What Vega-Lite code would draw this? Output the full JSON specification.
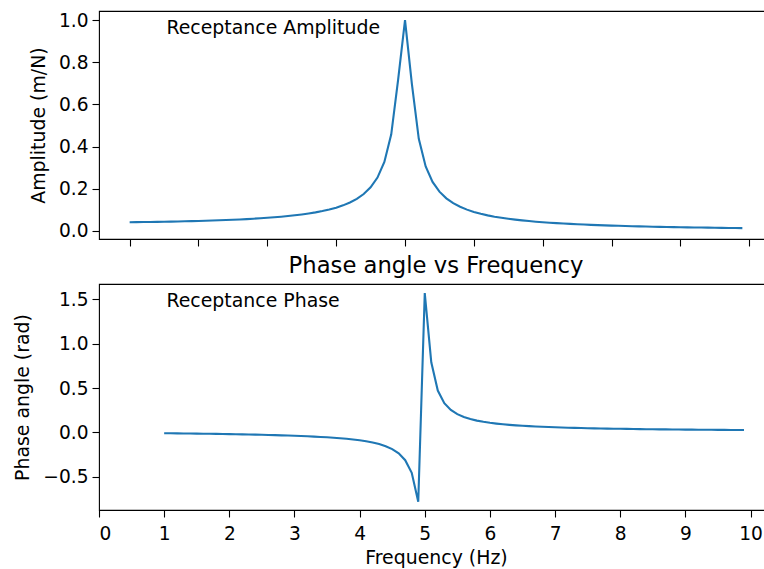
{
  "$schema": "https://vega.github.io/schema/vega-lite/v6.json",
  "padding": {"left": 13, "top": 10, "right": 0, "bottom": 0},
  "background": "white",
  "config": {
    "font": "DejaVu Sans",
    "view": {"stroke": "black", "strokeWidth": 1.1},
    "axis": {
      "grid": false, "domain": false, "tickColor": "black", "tickSize": 7, "tickWidth": 1.1,
      "labelColor": "black", "labelFontSize": 18.6, "labelFont": "DejaVu Sans", "labelPadding": 4,
      "titleColor": "black", "titleFontSize": 18.9, "titleFont": "DejaVu Sans", "titleFontWeight": "normal"
    },
    "title": {"font": "DejaVu Sans", "fontSize": 22.7, "fontWeight": "normal", "color": "black", "anchor": "middle", "offset": 6}
  },
  "datasets": {
    "frf": [
      {"f": 1.0, "amp": 0.04167, "phase": -0.00833},
      {"f": 1.1, "amp": 0.04203, "phase": -0.00925},
      {"f": 1.2, "amp": 0.04244, "phase": -0.01019},
      {"f": 1.3, "amp": 0.04290, "phase": -0.01115},
      {"f": 1.4, "amp": 0.04340, "phase": -0.01215},
      {"f": 1.5, "amp": 0.04395, "phase": -0.01319},
      {"f": 1.6, "amp": 0.04456, "phase": -0.01426},
      {"f": 1.7, "amp": 0.04523, "phase": -0.01538},
      {"f": 1.8, "amp": 0.04595, "phase": -0.01654},
      {"f": 1.9, "amp": 0.04675, "phase": -0.01776},
      {"f": 2.0, "amp": 0.04762, "phase": -0.01905},
      {"f": 2.1, "amp": 0.04856, "phase": -0.02040},
      {"f": 2.2, "amp": 0.04959, "phase": -0.02182},
      {"f": 2.3, "amp": 0.05072, "phase": -0.02333},
      {"f": 2.4, "amp": 0.05196, "phase": -0.02494},
      {"f": 2.5, "amp": 0.05331, "phase": -0.02666},
      {"f": 2.6, "amp": 0.05480, "phase": -0.02850},
      {"f": 2.7, "amp": 0.05644, "phase": -0.03048},
      {"f": 2.8, "amp": 0.05825, "phase": -0.03262},
      {"f": 2.9, "amp": 0.06025, "phase": -0.03495},
      {"f": 3.0, "amp": 0.06246, "phase": -0.03748},
      {"f": 3.1, "amp": 0.06492, "phase": -0.04026},
      {"f": 3.2, "amp": 0.06769, "phase": -0.04333},
      {"f": 3.3, "amp": 0.07079, "phase": -0.04674},
      {"f": 3.4, "amp": 0.07431, "phase": -0.05055},
      {"f": 3.5, "amp": 0.07831, "phase": -0.05484},
      {"f": 3.6, "amp": 0.08291, "phase": -0.05973},
      {"f": 3.7, "amp": 0.08823, "phase": -0.06533},
      {"f": 3.8, "amp": 0.09445, "phase": -0.07184},
      {"f": 3.9, "amp": 0.10182, "phase": -0.07950},
      {"f": 4.0, "amp": 0.11067, "phase": -0.08867},
      {"f": 4.1, "amp": 0.12149, "phase": -0.09979},
      {"f": 4.2, "amp": 0.13499, "phase": -0.11364},
      {"f": 4.3, "amp": 0.15229, "phase": -0.13135},
      {"f": 4.4, "amp": 0.17518, "phase": -0.15479},
      {"f": 4.5, "amp": 0.20685, "phase": -0.18727},
      {"f": 4.6, "amp": 0.25325, "phase": -0.23515},
      {"f": 4.7, "amp": 0.32701, "phase": -0.31255},
      {"f": 4.8, "amp": 0.45818, "phase": -0.45544},
      {"f": 4.9, "amp": 0.71787, "phase": -0.78032},
      {"f": 5.0, "amp": 1.00000, "phase": 1.57080},
      {"f": 5.1, "amp": 0.69662, "phase": 0.79032},
      {"f": 5.2, "amp": 0.43670, "phase": 0.47170},
      {"f": 5.3, "amp": 0.30611, "phase": 0.33053},
      {"f": 5.4, "amp": 0.23267, "phase": 0.25404},
      {"f": 5.5, "amp": 0.18643, "phase": 0.20656},
      {"f": 5.6, "amp": 0.15485, "phase": 0.17431},
      {"f": 5.7, "amp": 0.13199, "phase": 0.15105},
      {"f": 5.8, "amp": 0.11471, "phase": 0.13346},
      {"f": 5.9, "amp": 0.10121, "phase": 0.11971},
      {"f": 6.0, "amp": 0.09037, "phase": 0.10866},
      {"f": 6.1, "amp": 0.08150, "phase": 0.09959},
      {"f": 6.2, "amp": 0.07409, "phase": 0.09200},
      {"f": 6.3, "amp": 0.06782, "phase": 0.08556},
      {"f": 6.4, "amp": 0.06246, "phase": 0.08003},
      {"f": 6.5, "amp": 0.05781, "phase": 0.07522},
      {"f": 6.6, "amp": 0.05374, "phase": 0.07100},
      {"f": 6.7, "amp": 0.05016, "phase": 0.06727},
      {"f": 6.8, "amp": 0.04698, "phase": 0.06394},
      {"f": 6.9, "amp": 0.04415, "phase": 0.06096},
      {"f": 7.0, "amp": 0.04160, "phase": 0.05827},
      {"f": 7.1, "amp": 0.03929, "phase": 0.05582},
      {"f": 7.2, "amp": 0.03720, "phase": 0.05360},
      {"f": 7.3, "amp": 0.03530, "phase": 0.05156},
      {"f": 7.4, "amp": 0.03356, "phase": 0.04969},
      {"f": 7.5, "amp": 0.03196, "phase": 0.04796},
      {"f": 7.6, "amp": 0.03049, "phase": 0.04637},
      {"f": 7.7, "amp": 0.02913, "phase": 0.04488},
      {"f": 7.8, "amp": 0.02788, "phase": 0.04350},
      {"f": 7.9, "amp": 0.02671, "phase": 0.04221},
      {"f": 8.0, "amp": 0.02562, "phase": 0.04100},
      {"f": 8.1, "amp": 0.02460, "phase": 0.03987},
      {"f": 8.2, "amp": 0.02366, "phase": 0.03881},
      {"f": 8.3, "amp": 0.02277, "phase": 0.03781},
      {"f": 8.4, "amp": 0.02193, "phase": 0.03686},
      {"f": 8.5, "amp": 0.02115, "phase": 0.03597},
      {"f": 8.6, "amp": 0.02041, "phase": 0.03512},
      {"f": 8.7, "amp": 0.01972, "phase": 0.03432},
      {"f": 8.8, "amp": 0.01906, "phase": 0.03355},
      {"f": 8.9, "amp": 0.01844, "phase": 0.03282},
      {"f": 9.0, "amp": 0.01785, "phase": 0.03213},
      {"f": 9.1, "amp": 0.01729, "phase": 0.03147},
      {"f": 9.2, "amp": 0.01676, "phase": 0.03084},
      {"f": 9.3, "amp": 0.01626, "phase": 0.03024},
      {"f": 9.4, "amp": 0.01578, "phase": 0.02966},
      {"f": 9.5, "amp": 0.01532, "phase": 0.02911},
      {"f": 9.6, "amp": 0.01488, "phase": 0.02858},
      {"f": 9.7, "amp": 0.01447, "phase": 0.02807},
      {"f": 9.8, "amp": 0.01407, "phase": 0.02758},
      {"f": 9.9, "amp": 0.01369, "phase": 0.02711}
    ]
  },
  "vconcat": [
    {
      "width": 674,
      "height": 228,
      "layer": [
        {
          "data": {"name": "frf"},
          "mark": {"type": "line", "color": "#1f77b4", "strokeWidth": 2.1, "clip": true},
          "encoding": {
            "x": {"field": "f", "type": "quantitative", "scale": {"domain": [0.555, 10.345], "nice": false, "zero": false},
                  "axis": {"values": [1, 2, 3, 4, 5, 6, 7, 8, 9, 10], "labels": false, "title": null}},
            "y": {"field": "amp", "type": "quantitative", "scale": {"domain": [-0.038, 1.043], "nice": false, "zero": false},
                  "axis": {"values": [0, 0.2, 0.4, 0.6, 0.8, 1.0], "format": ".1f", "title": "Amplitude (m/N)", "titlePadding": 10}}
          }
        },
        {
          "data": {"values": [{"label": "Receptance Amplitude"}]},
          "mark": {"type": "text", "align": "left", "baseline": "alphabetic", "fontSize": 18.9, "font": "DejaVu Sans", "color": "black"},
          "encoding": {
            "x": {"datum": 1.534, "type": "quantitative"},
            "y": {"datum": 0.935, "type": "quantitative"},
            "text": {"field": "label", "type": "nominal"}
          }
        }
      ]
    },
    {
      "width": 674,
      "height": 226,
      "title": {"text": "Phase angle vs Frequency"},
      "layer": [
        {
          "data": {"name": "frf"},
          "mark": {"type": "line", "color": "#1f77b4", "strokeWidth": 2.1, "clip": true},
          "encoding": {
            "x": {"field": "f", "type": "quantitative", "scale": {"domain": [0, 10.345], "nice": false, "zero": false},
                  "axis": {"values": [0, 1, 2, 3, 4, 5, 6, 7, 8, 9, 10], "format": "d", "title": "Frequency (Hz)", "labelPadding": 7, "titlePadding": 6}},
            "y": {"field": "phase", "type": "quantitative", "scale": {"domain": [-0.874, 1.673], "nice": false, "zero": false},
                  "axis": {"values": [-0.5, 0, 0.5, 1.0, 1.5], "format": ".1f", "title": "Phase angle (rad)", "titlePadding": 10}}
          }
        },
        {
          "data": {"values": [{"label": "Receptance Phase"}]},
          "mark": {"type": "text", "align": "left", "baseline": "alphabetic", "fontSize": 18.9, "font": "DejaVu Sans", "color": "black"},
          "encoding": {
            "x": {"datum": 1.0345, "type": "quantitative"},
            "y": {"datum": 1.418, "type": "quantitative"},
            "text": {"field": "label", "type": "nominal"}
          }
        }
      ]
    }
  ],
  "bounds": "flush",
  "spacing": 45
}
